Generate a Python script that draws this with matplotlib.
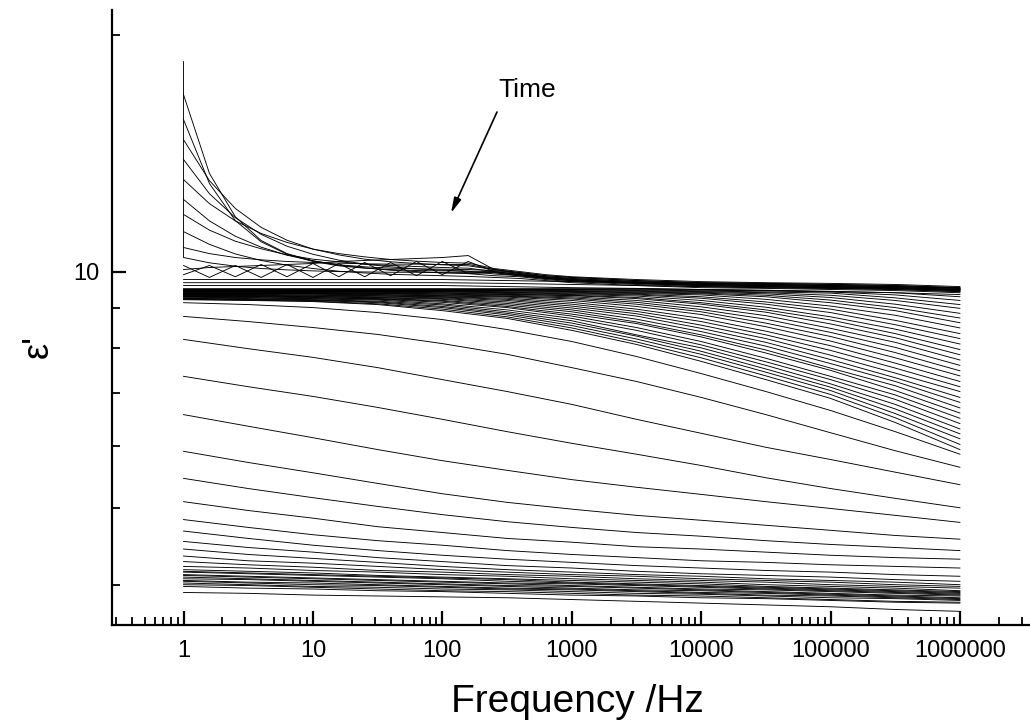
import matplotlib
matplotlib.use("Agg")
import matplotlib.pyplot as plt
from matplotlib.ticker import FixedLocator, LogLocator, NullFormatter, FixedFormatter

plt.rcParams['font.family'] = ['Liberation Sans', 'DejaVu Sans']

# ---------------- data ----------------
# frequency grid (Hz) for most curves (half-decade steps)
freq = [1, 3.162, 10, 31.62, 100, 316.2, 1000, 3162, 1e4, 3.162e4, 1e5, 3.162e5, 1e6]
# finer grid of the early (top) curves; the first point is measured twice at 1 Hz
freq_fine = [1, 1, 1.585, 2.512, 3.981, 6.31, 10, 15.85, 25.12, 39.81, 63.1, 100,
             158.5, 251.2, 398.1, 631, 1000, 3162, 1e4, 3.162e4, 1e5, 3.162e5, 1e6]

# early times: electrode polarisation at low frequency
A1 = [18.49, 16.78, 13.33, 11.74, 10.95, 10.54, 10.32, 10.20, 10.14, 10.10, 10.08, 10.07, 10.06, 10.03, 9.94, 9.85, 9.80, 9.71, 9.66, 9.63, 9.60, 9.57, 9.52]
A2 = [16.78, 15.60, 12.94, 11.61, 10.91, 10.52, 10.30, 10.17, 10.10, 10.06, 10.03, 10.02, 10.01, 10.00, 9.91, 9.83, 9.77, 9.68, 9.63, 9.60, 9.57, 9.54, 9.49]
A3 = [15.60, 14.71, 13.05, 12.03, 11.38, 10.96, 10.68, 10.50, 10.37, 10.29, 10.24, 10.20, 10.17, 10.06, 9.97, 9.88, 9.83, 9.74, 9.68, 9.66, 9.63, 9.60, 9.54]
A4 = [14.71, 13.88, 12.56, 11.71, 11.15, 10.77, 10.52, 10.34, 10.22, 10.14, 10.08, 10.04, 10.01, 9.93, 9.88, 9.80, 9.74, 9.66, 9.60, 9.57, 9.54, 9.52, 9.46]
A5 = [13.88, 13.09, 12.20, 11.60, 11.18, 10.89, 10.68, 10.54, 10.44, 10.36, 10.31, 10.27, 10.25, 10.09, 10.00, 9.91, 9.85, 9.77, 9.71, 9.68, 9.66, 9.63, 9.57]
A6 = [13.09, 12.35, 11.60, 11.09, 10.74, 10.49, 10.32, 10.19, 10.11, 10.04, 10.00, 9.96, 9.94, 9.88, 9.85, 9.77, 9.71, 9.63, 9.57, 9.54, 9.52, 9.49, 9.43]
A7 = [12.35, 11.82, 11.29, 10.93, 10.69, 10.50, 10.37, 10.29, 10.22, 10.18, 10.15, 10.12, 10.10, 10.00, 9.91, 9.83, 9.77, 9.68, 9.63, 9.60, 9.57, 9.54, 9.49]
A8 = [11.82, 11.24, 10.83, 10.53, 10.33, 10.19, 10.09, 10.01, 9.96, 9.92, 9.90, 9.88, 9.86, 9.83, 9.80, 9.74, 9.68, 9.60, 9.54, 9.52, 9.49, 9.46, 9.40]
A9 = [11.24, 10.73, 10.54, 10.42, 10.35, 10.30, 10.27, 10.25, 10.23, 10.22, 10.22, 10.21, 10.21, 10.06, 9.97, 9.88, 9.83, 9.74, 9.68, 9.66, 9.63, 9.60, 9.54]
A10 = [10.73, 10.42, 10.26, 10.16, 10.09, 10.05, 10.02, 10.00, 9.99, 9.98, 9.98, 9.97, 9.97, 9.97, 9.88, 9.80, 9.74, 9.66, 9.60, 9.57, 9.54, 9.52, 9.46]
Z1 = [10.06, 10.06, 10.12, 10.15, 10.18, 10.21, 10.24, 10.30, 10.33, 10.36, 10.39, 10.42, 10.48, 10.06, 9.94, 9.85, 9.80, 9.71, 9.66, 9.63, 9.60, 9.57, 9.52]
Z2 = [9.91, 9.91, 10.18, 9.85, 10.21, 9.85, 10.24, 9.85, 10.27, 9.88, 10.30, 9.91, 10.30, 10.00, 9.91, 9.83, 9.77, 9.68, 9.63, 9.60, 9.57, 9.54, 9.49]
Z3 = [10.18, 10.18, 9.83, 10.18, 9.83, 10.21, 9.83, 10.24, 9.85, 10.27, 9.88, 10.30, 9.94, 9.97, 9.88, 9.80, 9.74, 9.66, 9.60, 9.57, 9.54, 9.52, 9.46]

# flat early curves
F1 = [9.77, 9.77, 9.77, 9.77, 9.77, 9.74, 9.71, 9.68, 9.66, 9.63, 9.60, 9.57, 9.52]
F2 = [9.68, 9.68, 9.68, 9.68, 9.68, 9.66, 9.63, 9.60, 9.57, 9.54, 9.52, 9.49, 9.43]
F3 = [9.60, 9.60, 9.60, 9.60, 9.60, 9.57, 9.54, 9.52, 9.49, 9.46, 9.43, 9.40, 9.35]

# relaxation entering from high frequencies
K16 = [9.51, 9.51, 9.51, 9.51, 9.51, 9.51, 9.51, 9.51, 9.49, 9.47, 9.44, 9.40, 9.29]
N15 = [9.50, 9.50, 9.50, 9.50, 9.50, 9.50, 9.50, 9.50, 9.47, 9.45, 9.42, 9.34, 9.19]
K15 = [9.49, 9.49, 9.49, 9.49, 9.49, 9.49, 9.49, 9.48, 9.45, 9.42, 9.39, 9.26, 9.08]
N14 = [9.48, 9.48, 9.48, 9.48, 9.48, 9.48, 9.48, 9.46, 9.43, 9.40, 9.33, 9.19, 8.98]
K14 = [9.47, 9.47, 9.47, 9.47, 9.47, 9.47, 9.46, 9.44, 9.41, 9.37, 9.27, 9.09, 8.85]
N13 = [9.46, 9.46, 9.46, 9.46, 9.46, 9.46, 9.44, 9.42, 9.39, 9.33, 9.20, 9.00, 8.73]
K13 = [9.45, 9.45, 9.45, 9.45, 9.45, 9.45, 9.43, 9.40, 9.37, 9.29, 9.13, 8.92, 8.61]
N12 = [9.44, 9.44, 9.44, 9.44, 9.44, 9.43, 9.41, 9.38, 9.34, 9.22, 9.04, 8.80, 8.48]
K12 = [9.44, 9.44, 9.44, 9.44, 9.43, 9.41, 9.39, 9.36, 9.29, 9.15, 8.96, 8.67, 8.34]
N11 = [9.43, 9.43, 9.43, 9.43, 9.42, 9.40, 9.37, 9.34, 9.25, 9.09, 8.87, 8.56, 8.22]
K11 = [9.42, 9.42, 9.42, 9.42, 9.40, 9.38, 9.35, 9.31, 9.19, 9.01, 8.76, 8.45, 8.09]
N10 = [9.41, 9.41, 9.41, 9.41, 9.39, 9.36, 9.33, 9.27, 9.13, 8.94, 8.68, 8.34, 7.96]
K10 = [9.40, 9.40, 9.40, 9.39, 9.37, 9.35, 9.32, 9.24, 9.09, 8.88, 8.58, 8.24, 7.84]
N9 = [9.39, 9.39, 9.39, 9.38, 9.36, 9.33, 9.29, 9.19, 9.02, 8.79, 8.47, 8.13, 7.72]
K9 = [9.38, 9.38, 9.38, 9.37, 9.34, 9.31, 9.26, 9.14, 8.95, 8.70, 8.37, 8.01, 7.60]
N8 = [9.38, 9.38, 9.37, 9.35, 9.32, 9.30, 9.23, 9.09, 8.89, 8.60, 8.27, 7.89, 7.48]
K8 = [9.37, 9.37, 9.36, 9.34, 9.31, 9.28, 9.19, 9.03, 8.82, 8.51, 8.16, 7.77, 7.37]
N7 = [9.36, 9.35, 9.34, 9.32, 9.29, 9.25, 9.14, 8.96, 8.72, 8.40, 8.05, 7.65, 7.25]
K7 = [9.35, 9.35, 9.33, 9.31, 9.28, 9.22, 9.09, 8.90, 8.64, 8.31, 7.94, 7.54, 7.14]
N6 = [9.34, 9.33, 9.31, 9.29, 9.26, 9.19, 9.04, 8.84, 8.55, 8.22, 7.83, 7.43, 7.04]
K6 = [9.33, 9.32, 9.30, 9.27, 9.24, 9.15, 8.99, 8.78, 8.47, 8.13, 7.73, 7.33, 6.92]
N5 = [9.32, 9.31, 9.29, 9.26, 9.22, 9.11, 8.94, 8.70, 8.39, 8.04, 7.64, 7.25, 6.82]
K5 = [9.31, 9.30, 9.27, 9.24, 9.19, 9.07, 8.89, 8.63, 8.31, 7.95, 7.54, 7.16, 6.71]
N4 = [9.30, 9.29, 9.26, 9.23, 9.17, 9.03, 8.83, 8.59, 8.26, 7.88, 7.49, 7.06, 6.61]
K4 = [9.29, 9.27, 9.24, 9.22, 9.14, 9.00, 8.78, 8.49, 8.15, 7.76, 7.36, 6.97, 6.51]
N3 = [9.28, 9.26, 9.23, 9.20, 9.10, 8.94, 8.72, 8.42, 8.07, 7.68, 7.29, 6.88, 6.41]
K3 = [9.26, 9.24, 9.21, 9.17, 9.07, 8.89, 8.66, 8.31, 8.00, 7.60, 7.20, 6.78, 6.31]
N2 = [9.25, 9.22, 9.20, 9.15, 9.03, 8.85, 8.60, 8.28, 7.92, 7.52, 7.13, 6.69, 6.22]
K2 = [9.24, 9.21, 9.19, 9.13, 9.00, 8.81, 8.54, 8.21, 7.85, 7.45, 7.06, 6.60, 6.13]
N1 = [9.22, 9.20, 9.17, 9.10, 8.96, 8.76, 8.48, 8.14, 7.77, 7.37, 6.98, 6.52, 6.03]
K1 = [9.21, 9.19, 9.16, 9.08, 8.92, 8.72, 8.42, 8.08, 7.69, 7.29, 6.90, 6.43, 5.94]

# relaxation moving through the window
M1 = [9.13, 9.08, 9.00, 8.87, 8.69, 8.44, 8.15, 7.80, 7.42, 7.04, 6.66, 6.26, 5.86]
M2 = [8.77, 8.64, 8.49, 8.32, 8.10, 7.85, 7.55, 7.25, 6.92, 6.58, 6.24, 5.92, 5.64]
M3 = [8.20, 7.98, 7.78, 7.55, 7.29, 7.04, 6.78, 6.49, 6.23, 5.98, 5.77, 5.56, 5.36]
M4 = [7.36, 7.14, 6.94, 6.72, 6.49, 6.26, 6.05, 5.86, 5.67, 5.47, 5.30, 5.15, 5.01]
M5 = [6.58, 6.36, 6.15, 5.94, 5.75, 5.59, 5.44, 5.32, 5.21, 5.10, 5.00, 4.90, 4.80]
M6 = [5.91, 5.72, 5.55, 5.38, 5.22, 5.09, 4.99, 4.90, 4.83, 4.76, 4.69, 4.62, 4.57]
M7 = [5.46, 5.30, 5.16, 5.03, 4.91, 4.81, 4.73, 4.66, 4.61, 4.55, 4.50, 4.46, 4.42]
M8 = [5.10, 4.97, 4.86, 4.74, 4.66, 4.58, 4.53, 4.47, 4.44, 4.40, 4.36, 4.33, 4.31]
M9 = [4.84, 4.73, 4.63, 4.55, 4.49, 4.42, 4.37, 4.33, 4.29, 4.27, 4.24, 4.22, 4.20]
M10 = [4.68, 4.58, 4.49, 4.42, 4.36, 4.31, 4.27, 4.23, 4.20, 4.17, 4.15, 4.12, 4.10]
M11 = [4.54, 4.46, 4.40, 4.33, 4.28, 4.23, 4.20, 4.16, 4.13, 4.11, 4.09, 4.06, 4.04]
M12 = [4.44, 4.37, 4.32, 4.27, 4.22, 4.18, 4.15, 4.12, 4.10, 4.07, 4.05, 4.03, 4.00]
M13 = [4.35, 4.29, 4.26, 4.22, 4.18, 4.15, 4.12, 4.10, 4.07, 4.05, 4.03, 4.00, 3.98]
M14 = [4.28, 4.24, 4.21, 4.17, 4.15, 4.12, 4.10, 4.07, 4.05, 4.03, 4.00, 3.98, 3.96]
M15 = [4.22, 4.20, 4.17, 4.15, 4.12, 4.10, 4.07, 4.05, 4.03, 4.00, 3.98, 3.96, 3.93]

# late times: cured material
C1 = [4.18, 4.16, 4.14, 4.11, 4.09, 4.07, 4.05, 4.03, 4.01, 3.98, 3.96, 3.94, 3.92]
C2 = [4.16, 4.14, 4.12, 4.10, 4.08, 4.06, 4.03, 4.01, 3.99, 3.97, 3.95, 3.93, 3.91]
C3 = [4.15, 4.13, 4.11, 4.09, 4.07, 4.04, 4.02, 4.00, 3.98, 3.96, 3.94, 3.92, 3.90]
C4 = [4.12, 4.10, 4.08, 4.06, 4.04, 4.02, 4.01, 3.99, 3.97, 3.95, 3.93, 3.91, 3.89]
C5 = [4.11, 4.09, 4.07, 4.05, 4.03, 4.01, 3.99, 3.97, 3.95, 3.94, 3.92, 3.90, 3.88]
C6 = [4.09, 4.07, 4.05, 4.03, 4.01, 3.99, 3.98, 3.96, 3.94, 3.92, 3.90, 3.88, 3.87]
C7 = [4.07, 4.06, 4.04, 4.02, 4.00, 3.98, 3.96, 3.94, 3.93, 3.91, 3.89, 3.87, 3.85]
C8 = [4.05, 4.03, 4.02, 4.00, 3.98, 3.96, 3.95, 3.93, 3.91, 3.90, 3.88, 3.86, 3.84]
C9 = [4.04, 4.02, 4.00, 3.99, 3.97, 3.95, 3.94, 3.92, 3.90, 3.88, 3.87, 3.85, 3.83]
C10 = [4.02, 4.00, 3.98, 3.97, 3.95, 3.94, 3.92, 3.90, 3.89, 3.87, 3.85, 3.84, 3.82]
C11 = [4.00, 3.99, 3.97, 3.95, 3.93, 3.92, 3.90, 3.88, 3.87, 3.85, 3.83, 3.81, 3.80]
C12 = [3.98, 3.96, 3.95, 3.93, 3.92, 3.90, 3.88, 3.87, 3.85, 3.84, 3.82, 3.80, 3.79]
C13 = [3.91, 3.90, 3.88, 3.87, 3.86, 3.85, 3.83, 3.81, 3.79, 3.77, 3.75, 3.72, 3.70]

fine_curves = [A1, A2, A3, A4, A5, A6, A7, A8, A9, A10, Z1, Z2, Z3]
coarse_curves = [F1, F2, F3,
                 K16, N15, K15, N14, K14, N13, K13, N12, K12, N11, K11, N10, K10,
                 N9, K9, N8, K8, N7, K7, N6, K6, N5, K5, N4, K4, N3, K3, N2, K2, N1, K1,
                 M1, M2, M3, M4, M5, M6, M7, M8, M9, M10, M11, M12, M13, M14, M15,
                 C1, C2, C3, C4, C5, C6, C7, C8, C9, C10, C11, C12, C13]

x_major = [1, 10, 100, 1000, 10000, 100000, 1000000]
x_major_labels = ['1', '10', '100', '1000', '10000', '100000', '1000000']
y_major = [10]
y_major_labels = ['10']

# ---------------- figure ----------------
W, H = 1030, 724
fig = plt.figure(figsize=(W / 100, H / 100), dpi=100)
ax = fig.add_axes([112 / W, 99 / H, 918 / W, 615 / H])

for c in fine_curves:
    ax.plot(freq_fine, c, color='black', lw=0.65)
for c in coarse_curves:
    ax.plot(freq, c, color='black', lw=0.65)

ax.set_xscale('log')
ax.set_yscale('log')
ax.set_xlim(0.28, 3.48e6)
ax.set_ylim(3.555, 21.5)

for s in ('top', 'right'):
    ax.spines[s].set_visible(False)
for s in ('left', 'bottom'):
    ax.spines[s].set_linewidth(1.6)

ax.xaxis.set_major_locator(FixedLocator(x_major))
ax.xaxis.set_major_formatter(FixedFormatter(x_major_labels))
ax.xaxis.set_minor_locator(LogLocator(base=10, subs=[2, 3, 4, 5, 6, 7, 8, 9], numticks=30))
ax.xaxis.set_minor_formatter(NullFormatter())
ax.yaxis.set_major_locator(FixedLocator(y_major))
ax.yaxis.set_major_formatter(FixedFormatter(y_major_labels))
ax.yaxis.set_minor_locator(LogLocator(base=10, subs=[2, 3, 4, 5, 6, 7, 8, 9], numticks=30))
ax.yaxis.set_minor_formatter(NullFormatter())

ax.tick_params(which='major', direction='in', length=10, width=1.6, labelsize=17)
ax.tick_params(axis='x', which='major', pad=11)
ax.tick_params(axis='y', which='major', pad=9)
ax.tick_params(which='minor', direction='in', length=5.5, width=1.3)

fig.text(577 / W, 12 / H, 'Frequency /Hz', fontsize=28, ha='center', va='baseline')
fig.text(38 / W, 1 - 347 / H, "ε'", fontsize=26, rotation=90, ha='center', va='center')

fig.text(498 / W, 1 - 97 / H, 'Time', fontsize=19, ha='left', va='baseline')
ax.annotate('', xy=(451, H - 213), xytext=(497, H - 112),
            xycoords='figure pixels', textcoords='figure pixels',
            arrowprops=dict(arrowstyle='-|>,head_length=0.9,head_width=0.22',
                            color='black', lw=1.2, shrinkA=0, shrinkB=0))

fig.savefig('out.png', dpi=100)
